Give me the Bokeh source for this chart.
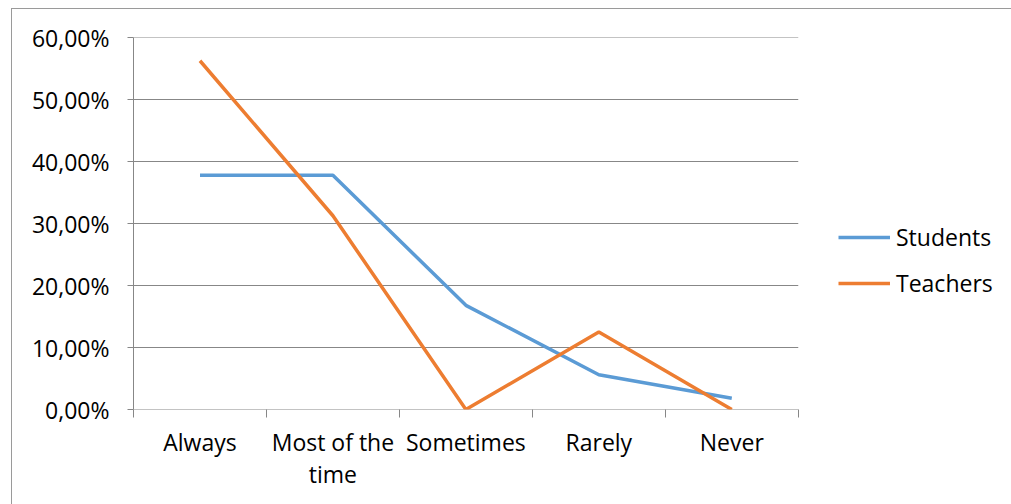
from bokeh.plotting import figure
from bokeh.models import ColumnDataSource, FixedTicker, Legend, LegendItem
from bokeh.embed import file_html
from bokeh.resources import INLINE

categories = ["Always", "Most of the\ntime", "Sometimes", "Rarely", "Never"]
students = [37.8, 37.8, 16.8, 5.6, 1.8]
teachers = [56.25, 31.25, 0.0, 12.5, 0.0]
y_ticks = [0, 10, 20, 30, 40, 50, 60]
y_labels = ["0,00%", "10,00%", "20,00%", "30,00%", "40,00%", "50,00%", "60,00%"]

n = len(categories)
xs = [i + 0.5 for i in range(n)]
src = ColumnDataSource(dict(x=xs, students=students, teachers=teachers))

FONT = "Open Sans"
FS = "23px"
GRID = "#878787"

# frame spans to the right edge so the legend can live inside it;
# the category area occupies the first 664 px of the 878 px frame
FRAME_W = 878
CAT_W = 664
x_end = n * FRAME_W / CAT_W

p = figure(width=1000, height=496, output_backend="svg", toolbar_location=None,
           x_range=(0, x_end), y_range=(0, 60),
           min_border_left=121, min_border_right=0, min_border_top=28, min_border_bottom=96)
p.margin = (8, 0, 0, 11)
p.styles = {"border-left": "1px solid #9a9a9a", "border-top": "1px solid #9a9a9a"}
p.outline_line_color = None
p.background_fill_color = "white"
p.border_fill_color = "white"

# horizontal gridlines over the category area only
p.segment(x0=[0] * len(y_ticks), x1=[n] * len(y_ticks), y0=y_ticks, y1=y_ticks,
          line_color=GRID, line_width=1)

r1 = p.line("x", "students", source=src, line_color="#5B9BD5", line_width=3.5)
r2 = p.line("x", "teachers", source=src, line_color="#ED7D31", line_width=3.5)

# x axis
p.xaxis.ticker = FixedTicker(ticks=xs, minor_ticks=list(range(n + 1)))
p.xaxis.major_label_overrides = {x: c for x, c in zip(xs, categories)}
p.xaxis.major_tick_out = 0
p.xaxis.major_tick_in = 0
p.xaxis.minor_tick_out = 8
p.xaxis.minor_tick_in = 0
p.xaxis.minor_tick_line_color = GRID
p.xaxis.minor_tick_line_width = 1
p.xaxis.axis_line_color = None
p.xaxis.major_label_text_font = FONT
p.xaxis.major_label_text_font_size = FS
p.xaxis.major_label_text_color = "#000000"
p.xaxis.major_label_text_line_height = 1.0
p.xaxis.major_label_standoff = 8
p.xgrid.grid_line_color = None
p.ygrid.grid_line_color = None

# y axis
p.yaxis.ticker = FixedTicker(ticks=y_ticks, minor_ticks=[])
p.yaxis.major_label_overrides = {t: l for t, l in zip(y_ticks, y_labels)}
p.yaxis.major_tick_out = 6
p.yaxis.major_tick_in = 0
p.yaxis.major_tick_line_color = GRID
p.yaxis.axis_line_color = GRID
p.yaxis.major_label_text_font = FONT
p.yaxis.major_label_text_font_size = FS
p.yaxis.major_label_text_color = "#000000"
p.yaxis.major_label_standoff = 18

legend = Legend(items=[LegendItem(label="Students", renderers=[r1]),
                       LegendItem(label="Teachers", renderers=[r2])],
                location=(705, 110), orientation="vertical",
                border_line_color=None, background_fill_alpha=0,
                padding=0, margin=0, spacing=14, glyph_width=52, glyph_height=20,
                label_height=24, label_standoff=6,
                label_text_font=FONT, label_text_font_size=FS, label_text_color="#000000")
p.add_layout(legend, "center")

open("out.html", "w").write(file_html(p, INLINE))
